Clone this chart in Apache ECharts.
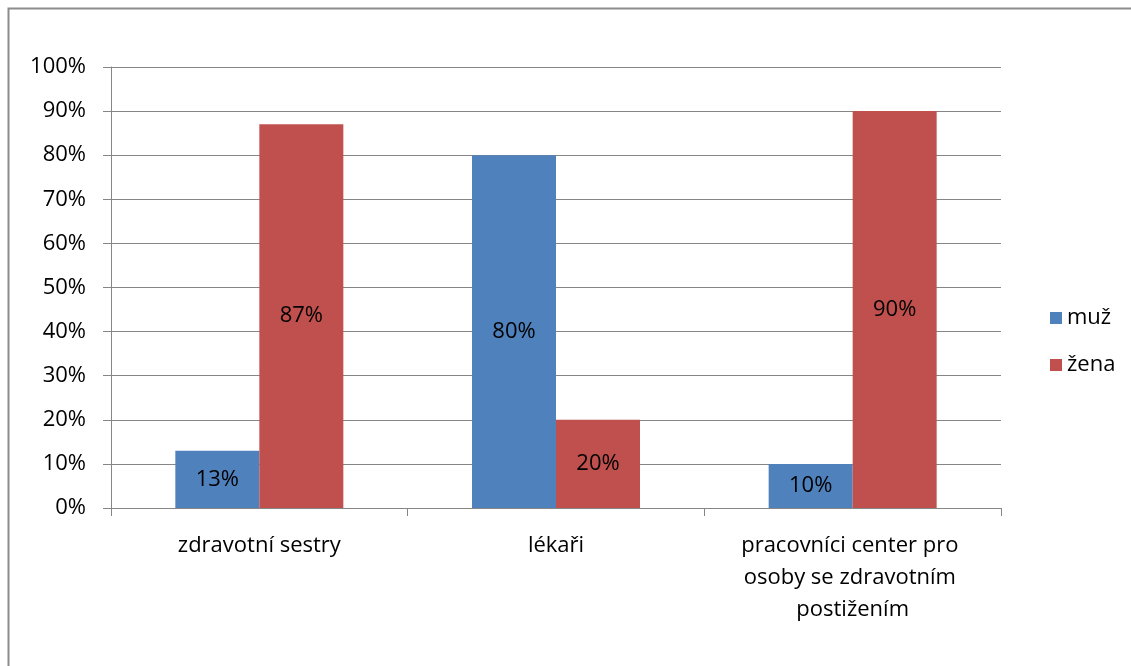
<!DOCTYPE html>
<html>
<head>
<meta charset="utf-8">
<script src="https://cdn.jsdelivr.net/npm/echarts@6/dist/echarts.min.js"></script>
<style>
  html, body { margin: 0; padding: 0; background: #fff; }
  #chart { width: 1131px; height: 666px; }
</style>
</head>
<body>
<div id="chart"></div>
<script>
// Gender split by profession (share of respondents, %)
const categories = ['zdravotní sestry', 'lékaři', 'pracovníci center pro osoby se zdravotním postižením'];
const seriesNames = ['muž', 'žena'];
const muz = [13, 80, 10];
const zena = [87, 20, 90];

const FONT = '"Open Sans", "Noto Sans", sans-serif';
const FS = 22;
const chart = echarts.init(document.getElementById('chart'));

const barLabel = {
  show: true,
  position: 'inside',
  color: '#000',
  fontFamily: FONT,
  fontSize: FS,
  formatter: p => p.value + '%'
};

chart.setOption({
  animation: false,
  graphic: [{
    type: 'rect',
    shape: { x: 8.5, y: 8.5, width: 1300, height: 800 },
    style: { fill: 'none', stroke: '#8c8c8c', lineWidth: 2 },
    silent: true
  }],
  legend: {
    orient: 'vertical',
    left: 1045,
    top: 302,
    itemWidth: 12,
    itemHeight: 12,
    itemGap: 25,
    icon: 'rect',
    itemStyle: { borderWidth: 0 },
    textStyle: { fontFamily: FONT, fontSize: FS, color: '#000' },
    data: seriesNames
  },
  grid: { left: 111, right: 130, top: 67, bottom: 158, containLabel: false },
  xAxis: {
    type: 'category',
    data: categories,
    axisLine: { lineStyle: { color: '#868686', width: 1 } },
    axisTick: { show: true, length: 8, lineStyle: { color: '#868686' } },
    axisLabel: {
      color: '#000',
      fontFamily: FONT,
      fontSize: FS,
      margin: 22,
      lineHeight: 32,
      width: 260,
      overflow: 'break',
      interval: 0
    }
  },
  yAxis: {
    type: 'value',
    min: 0,
    max: 100,
    interval: 10,
    axisLine: { show: true, lineStyle: { color: '#868686', width: 1 } },
    axisTick: { show: true, length: 8, lineStyle: { color: '#868686' } },
    axisLabel: {
      color: '#000',
      fontFamily: FONT,
      fontSize: FS,
      margin: 25,
      formatter: v => v + '%'
    },
    splitLine: { show: true, lineStyle: { color: '#868686', width: 1 } }
  },
  series: [
    {
      name: seriesNames[0],
      type: 'bar',
      data: muz,
      barWidth: 84,
      barGap: '0%',
      itemStyle: { color: '#4F81BD' },
      label: barLabel
    },
    {
      name: seriesNames[1],
      type: 'bar',
      data: zena,
      barWidth: 84,
      barGap: '0%',
      itemStyle: { color: '#C0504D' },
      label: barLabel
    }
  ]
});
</script>
</body>
</html>
